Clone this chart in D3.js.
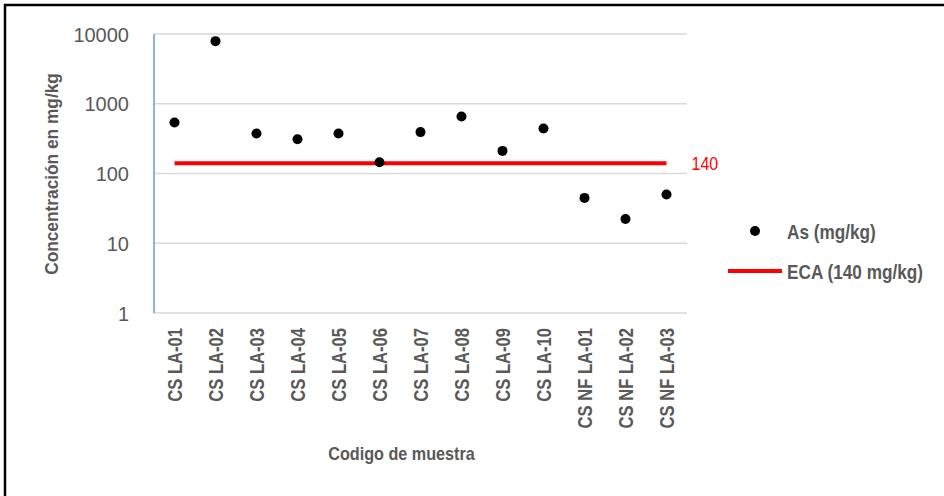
<!DOCTYPE html>
<html>
<head>
<meta charset="utf-8">
<script src="https://cdn.jsdelivr.net/npm/d3@7/dist/d3.min.js"></script>
<style>
  html, body { margin: 0; padding: 0; background: #fff; }
  svg { display: block; }
  text { font-family: Arial, "Liberation Sans", sans-serif; }
</style>
</head>
<body>
<svg id="chart" width="944" height="496"></svg>
<script>
const categories = ["CS LA-01","CS LA-02","CS LA-03","CS LA-04","CS LA-05","CS LA-06","CS LA-07","CS LA-08","CS LA-09","CS LA-10","CS NF LA-01","CS NF LA-02","CS NF LA-03"];
const asValues = [540, 7900, 375, 310, 375, 145, 392, 657, 211, 442, 44.7, 22.3, 50];
const ecaLimit = 140;
const yTicks = [1, 10, 100, 1000, 10000];
const seriesNames = ["As (mg/kg)", "ECA (140 mg/kg)"];
const yTitle = "Concentración en mg/kg";
const xTitle = "Codigo de muestra";

(function () {
const svg = d3.select("#chart");
const textColor = "#595959";
const pLeft = 154, pRight = 687, pTop = 34, pBottom = 313;

// outer border
svg.append("rect").attr("x", 5).attr("y", 5).attr("width", 960).attr("height", 520)
  .attr("fill", "none").attr("stroke", "#000").attr("stroke-width", 2.5);

const x = d3.scaleBand().domain(categories).range([pLeft, pRight]);
const y = d3.scaleLog().domain([1, 10000]).range([pBottom, pTop]);

// gridlines
svg.append("g").selectAll("line").data(yTicks).join("line")
  .attr("x1", pLeft).attr("x2", pRight)
  .attr("y1", d => y(d)).attr("y2", d => y(d))
  .attr("stroke", "#d9d9d9").attr("stroke-width", 1.5);

// y axis line
svg.append("line").attr("x1", pLeft).attr("x2", pLeft).attr("y1", pTop).attr("y2", pBottom)
  .attr("stroke", "#6b9bd2").attr("stroke-width", 1.5);

// y tick labels
const yAxis = d3.axisLeft(y).tickValues(yTicks).tickFormat(d3.format("d")).tickSize(0).tickPadding(0);
const yg = svg.append("g").attr("transform", `translate(129,0)`).call(yAxis);
yg.select(".domain").remove();
yg.selectAll("text").attr("fill", textColor).style("font-size", "20px")
  .attr("font-family", "Arial, 'Liberation Sans', sans-serif").attr("dy", "0.36em").attr("x", 0);

// x tick labels
const xAxis = d3.axisBottom(x).tickSize(0).tickPadding(0);
const xg = svg.append("g").attr("transform", `translate(0,328)`).call(xAxis);
xg.select(".domain").remove();
xg.selectAll("text")
  .attr("fill", textColor).style("font-size", "16.6px").style("font-weight", "bold")
  .attr("font-family", "Arial, 'Liberation Sans', sans-serif")
  .attr("text-anchor", "end").attr("dominant-baseline", "central")
  .attr("x", 0).attr("y", 0).attr("dy", null)
  .attr("transform", "rotate(-90) scale(1,1.25)");

// ECA line
svg.append("line")
  .attr("x1", x(categories[0]) + x.bandwidth() / 2)
  .attr("x2", x(categories[categories.length - 1]) + x.bandwidth() / 2)
  .attr("y1", y(ecaLimit)).attr("y2", y(ecaLimit))
  .attr("stroke", "#ff0000").attr("stroke-width", 4);

svg.append("text").attr("transform", `translate(691.5,${y(ecaLimit)}) scale(1,1.2)`)
  .attr("dominant-baseline", "central").attr("fill", "#ff0000")
  .style("font-size", "16px").text(String(ecaLimit));

// points
svg.append("g").selectAll("circle").data(asValues).join("circle")
  .attr("cx", (d, i) => x(categories[i]) + x.bandwidth() / 2)
  .attr("cy", d => y(d))
  .attr("r", 5).attr("fill", "#000");

// axis titles
svg.append("text").attr("transform", "translate(52,174) rotate(-90) scale(1,1.1)")
  .attr("text-anchor", "middle").attr("dominant-baseline", "central")
  .attr("fill", textColor).style("font-size", "17.3px").style("font-weight", "bold").text(yTitle);

svg.append("text").attr("transform", "translate(401.5,459.5) scale(1,1.12)")
  .attr("text-anchor", "middle")
  .attr("fill", textColor).style("font-size", "16.2px").style("font-weight", "bold").text(xTitle);

// legend
svg.append("circle").attr("cx", 755).attr("cy", 231).attr("r", 5).attr("fill", "#000");
svg.append("text").attr("transform", "translate(787,239) scale(1,1.14)")
  .attr("fill", textColor).style("font-size", "17.2px").style("font-weight", "bold").text(seriesNames[0]);
svg.append("line").attr("x1", 728).attr("x2", 782).attr("y1", 271).attr("y2", 271)
  .attr("stroke", "#ff0000").attr("stroke-width", 4);
svg.append("text").attr("transform", "translate(787,279) scale(1,1.14)")
  .attr("fill", textColor).style("font-size", "17.2px").style("font-weight", "bold").text(seriesNames[1]);
})();
</script>
</body>
</html>
